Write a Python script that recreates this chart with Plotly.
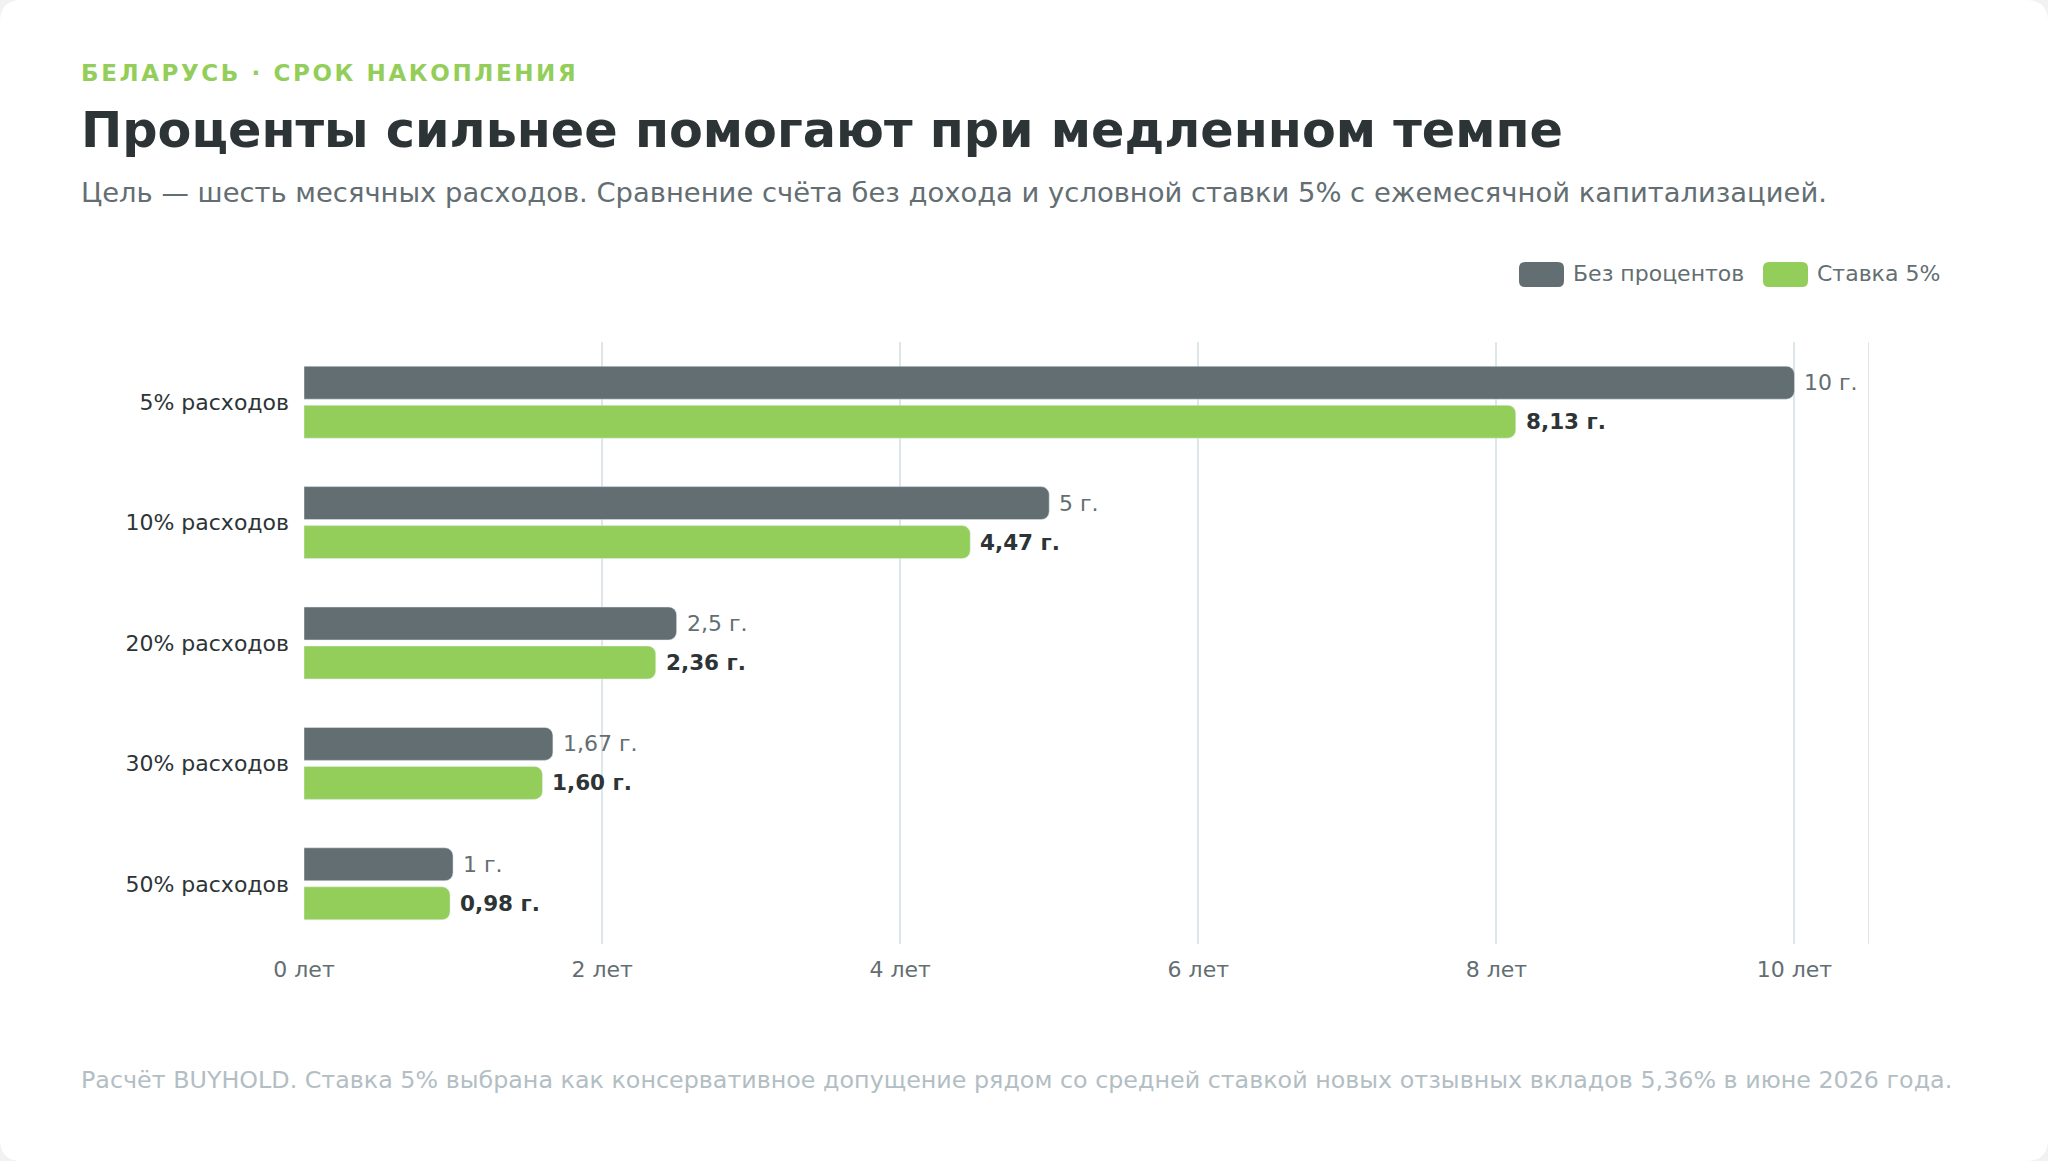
import plotly.graph_objects as go

# data
categories = ["5% расходов", "10% расходов", "20% расходов", "30% расходов", "50% расходов"]
no_interest = [10, 5, 2.5, 1.67, 1]
rate_5 = [8.13, 4.47, 2.36, 1.60, 0.98]
series_names = ["Без процентов", "Ставка 5%"]
x_ticks = [0, 2, 4, 6, 8, 10]
x_ticktext = [f"{t} лет" for t in x_ticks]

kicker = "БЕЛАРУСЬ · СРОК НАКОПЛЕНИЯ"
title = "Проценты сильнее помогают при медленном темпе"
subtitle = ("Цель — шесть месячных расходов. Сравнение счёта без дохода и условной "
            "ставки 5% с ежемесячной капитализацией.")
footer = ("Расчёт BUYHOLD. Ставка 5% выбрана как консервативное допущение рядом со "
          "средней ставкой новых отзывных вкладов 5,36% в июне 2026 года.")

GRAY = "#636e72"
GREEN = "#94ce5a"
DARK = "#2d3436"
MUTED = "#b2bec3"
GRID = "#dfe6e9"
FONT = "DejaVu Sans"

W, H = 2048, 1161
L, R, T, B = 304, 179, 342, 217
PW, PH = W - L - R, H - T - B


def px(x):
    return (x - L) / PW


def py(y):
    return (H - B - y) / PH


def fmt_plain(v):
    return f"{v:g}".replace(".", ",") + " г."


def fmt_2(v):
    return f"{v:.2f}".replace(".", ",") + " г."


BAR_W = 0.274
fig = go.Figure()
fig.add_trace(go.Bar(
    y=categories, x=no_interest, orientation="h", name=series_names[0],
    marker=dict(color=GRAY, cornerradius=8), width=BAR_W, offset=-0.299,
    hoverinfo="x+y",
))
fig.add_trace(go.Bar(
    y=categories, x=rate_5, orientation="h", name=series_names[1],
    marker=dict(color=GREEN, cornerradius=8), width=BAR_W, offset=0.025,
    hoverinfo="x+y",
))

annotations = []
for i, (a, b) in enumerate(zip(no_interest, rate_5)):
    annotations.append(dict(
        x=a, y=i - 0.162, xref="x", yref="y", text=fmt_plain(a), showarrow=False,
        xanchor="left", yanchor="middle", xshift=8,
        font=dict(family=FONT, size=22, color=GRAY)))
    annotations.append(dict(
        x=b, y=i + 0.162, xref="x", yref="y", text=f"<b>{fmt_2(b)}</b>", showarrow=False,
        xanchor="left", yanchor="middle", xshift=8,
        font=dict(family=FONT, size=21.5, color=DARK)))

# header and footer texts
for text, y, size, color in [
    (f"<b>{kicker}</b>", 73, 23, GREEN),
    (f"<b>{title}</b>", 130, 49.3, DARK),
    (subtitle, 192, 27.4, GRAY),
    (footer, 1080, 23.8, MUTED),
]:
    annotations.append(dict(
        x=px(79), y=py(y), xref="paper", yref="paper", text=text, showarrow=False,
        xanchor="left", yanchor="middle", font=dict(family=FONT, size=size, color=color)))

# legend drawn by hand (wide rounded swatches)
legend_items = [(1519, series_names[0], GRAY), (1763, series_names[1], GREEN)]
shapes = []


def rounded_rect(x0, y0, x1, y1, r):
    pts = [
        f"M {px(x0 + r)},{py(y0)}",
        f"L {px(x1 - r)},{py(y0)}",
        f"Q {px(x1)},{py(y0)} {px(x1)},{py(y0 + r)}",
        f"L {px(x1)},{py(y1 - r)}",
        f"Q {px(x1)},{py(y1)} {px(x1 - r)},{py(y1)}",
        f"L {px(x0 + r)},{py(y1)}",
        f"Q {px(x0)},{py(y1)} {px(x0)},{py(y1 - r)}",
        f"L {px(x0)},{py(y0 + r)}",
        f"Q {px(x0)},{py(y0)} {px(x0 + r)},{py(y0)}",
        "Z",
    ]
    return " ".join(pts)


# white card with rounded corners
shapes.append(dict(type="path", xref="paper", yref="paper", layer="below",
                   path=rounded_rect(0, 0, W, H, 22),
                   fillcolor="white", line=dict(width=0)))

for x0, name, color in legend_items:
    shapes.append(dict(type="path", xref="paper", yref="paper",
                       path=rounded_rect(x0, 262, x0 + 45, 287, 6),
                       fillcolor=color, line=dict(width=0)))
    annotations.append(dict(
        x=px(x0 + 52), y=py(274), xref="paper", yref="paper", text=name, showarrow=False,
        xanchor="left", yanchor="middle", font=dict(family=FONT, size=22, color=GRAY)))

# right border line of the plot area
shapes.append(dict(type="line", xref="x", yref="paper", x0=10.5, x1=10.5, y0=0, y1=1,
                   line=dict(color=GRID, width=2), layer="below"))

fig.update_layout(
    width=W, height=H,
    margin=dict(l=L, r=R, t=T, b=B),
    paper_bgcolor="#f0f2f3",
    plot_bgcolor="rgba(0,0,0,0)",
    barmode="overlay",
    showlegend=False,
    font=dict(family=FONT, size=20, color=DARK),
    xaxis=dict(
        range=[0, 10.5], tickvals=x_ticks, ticktext=x_ticktext,
        showgrid=True, gridcolor=GRID, gridwidth=2, zeroline=False,
        showline=False, ticks="", ticklabelstandoff=10,
        tickfont=dict(family=FONT, size=22, color=GRAY),
        fixedrange=True,
    ),
    yaxis=dict(
        type="category", range=[4.5, -0.5], showgrid=False, zeroline=False,
        showline=False, ticks="", ticklabelstandoff=14,
        tickfont=dict(family=FONT, size=22, color=DARK),
        fixedrange=True,
    ),
    annotations=annotations,
    shapes=shapes,
)

# page without the default body margin; kicker gets its letter spacing,
# keeping its left edge where plotly put it
post = """
document.body.style.margin = '0';
document.querySelectorAll('text').forEach(function (t) {
  if (t.textContent.indexOf('БЕЛАРУСЬ') === 0) {
    var left = t.getBBox().x;
    t.style.letterSpacing = '2.6px';
    t.setAttribute('text-anchor', 'start');
    t.setAttribute('x', left);
  }
});
"""
fig.write_html("out.html", post_script=post, config={"displayModeBar": False})
